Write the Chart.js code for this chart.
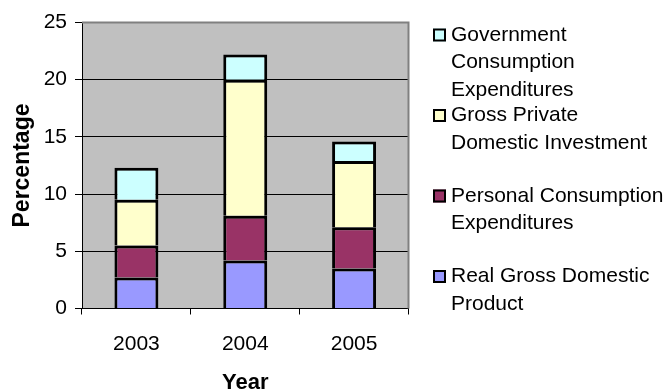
<!DOCTYPE html>
<html>
<head>
<meta charset="utf-8">
<script src="https://cdn.jsdelivr.net/npm/chart.js@4"></script>
<style>
  body { margin: 0; background: #fff; }
  #wrap { width: 668px; height: 392px; }
</style>
</head>
<body>
<div id="wrap"><canvas id="chart" width="668" height="392"></canvas></div>
<script>
// Contributions by year (percentage points)
const years = ["2003", "2004", "2005"];
const realGdp = [2.7, 4.2, 3.5];
const personalConsumption = [2.8, 3.9, 3.6];
const grossPrivateInvestment = [4.0, 11.9, 5.8];
const governmentConsumption = [2.8, 2.2, 1.7];

// Legend text, one array of lines per series
const seriesNames = [
  ["Real Gross Domestic", "Product"],
  ["Personal Consumption", "Expenditures"],
  ["Gross Private", "Domestic Investment"],
  ["Government", "Consumption", "Expenditures"],
];
const seriesColors = ["#9999FF", "#993366", "#FFFFCC", "#CCFFFF"];
const yTicks = [0, 5, 10, 15, 20, 25];

const FONT = '"Liberation Sans", Arial, sans-serif';
Chart.defaults.font.family = FONT;
Chart.defaults.color = "#000";

// grey plot area, with the grey frame on top and right
const plotArea = {
  id: "plotArea",
  beforeDraw(chart) {
    const { ctx, chartArea: a } = chart;
    ctx.save();
    ctx.fillStyle = "#C0C0C0";
    ctx.fillRect(a.left, a.top, a.right - a.left, a.bottom - a.top);
    ctx.restore();
  },
  afterDatasetsDraw(chart) {
    const { ctx, chartArea: a } = chart;
    ctx.save();
    ctx.strokeStyle = "#808080";
    ctx.lineWidth = 2;
    ctx.beginPath();
    ctx.moveTo(a.left, a.top);
    ctx.lineTo(a.right, a.top);
    ctx.lineTo(a.right, a.bottom);
    ctx.stroke();
    ctx.restore();
  },
};

// legend on the right, wrapped text, last series first
const sideLegend = {
  id: "sideLegend",
  afterDraw(chart) {
    const { ctx } = chart;
    const sets = chart.data.datasets.slice().reverse();
    ctx.save();
    ctx.font = "21px " + FONT;
    ctx.textBaseline = "middle";
    ctx.fillStyle = "#000";
    sets.forEach((ds, i) => {
      const y0 = 35 + i * 80.5;
      ctx.fillStyle = ds.backgroundColor;
      ctx.fillRect(433, y0 - 6.5, 13, 13);
      ctx.strokeStyle = "#000";
      ctx.lineWidth = 2;
      ctx.strokeRect(434, y0 - 5.5, 11, 11);
      ctx.fillStyle = "#000";
      ds.lines.forEach((line, j) => {
        ctx.fillText(line, 451, y0 + j * 27.5);
      });
    });
    ctx.restore();
  },
};

const datasets = [realGdp, personalConsumption, grossPrivateInvestment, governmentConsumption].map(
  (values, i) => ({
    label: seriesNames[i].join(" "),
    lines: seriesNames[i],
    data: values,
    backgroundColor: seriesColors[i],
    borderColor: "#000",
    borderWidth: 3,
    barPercentage: 0.404,
    categoryPercentage: 1,
  })
);

new Chart(document.getElementById("chart"), {
  type: "bar",
  data: { labels: years, datasets },
  plugins: [plotArea, sideLegend],
  options: {
    responsive: false,
    animation: false,
    layout: { padding: { top: 22.5, right: 259.5, bottom: 0, left: 0 } },
    plugins: { legend: { display: false }, tooltip: { enabled: false } },
    scales: {
      x: {
        stacked: true,
        afterFit(scale) { scale.height = 83.5; },
        grid: { drawOnChartArea: false, offset: true, tickLength: 6, color: "#000", tickColor: "#000" },
        border: { color: "#000", width: 1 },
        ticks: { font: { size: 21 }, padding: 17 },
        title: {
          display: true,
          text: "Year",
          font: { size: 22, weight: "bold", lineHeight: 0.8 },
          padding: 0,
        },
      },
      y: {
        stacked: true,
        min: yTicks[0],
        max: yTicks[yTicks.length - 1],
        afterFit(scale) { scale.width = 82; },
        afterBuildTicks(scale) { scale.ticks = yTicks.map((v) => ({ value: v })); },
        grid: {
          color: (c) => (c.tick && c.tick.value === 25 ? "rgba(0,0,0,0)" : "#000"),
          tickColor: "#000",
          tickLength: 7,
        },
        border: { color: "#000", width: 1 },
        ticks: { font: { size: 21 }, padding: 8 },
        title: {
          display: true,
          text: "Percentage",
          font: { size: 23, weight: "bold" },
          padding: { top: 9, bottom: 0 },
        },
      },
    },
  },
});
</script>
</body>
</html>
